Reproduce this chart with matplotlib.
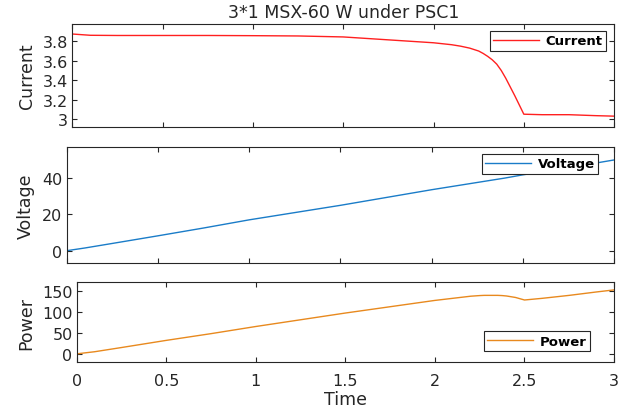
import matplotlib
matplotlib.use('Agg')
import matplotlib.pyplot as plt
from matplotlib.ticker import FormatStrFormatter

# sample times (s)
time = [0, 0.1, 0.25, 0.5, 0.75, 1.0, 1.25, 1.5, 1.75, 2.0, 2.1, 2.15, 2.2,
        2.25, 2.275, 2.3, 2.325, 2.35, 2.375, 2.4, 2.45, 2.5, 2.6, 2.75, 2.9, 3.0]

current = [3.875, 3.862, 3.86, 3.86, 3.86, 3.858, 3.855, 3.845, 3.815, 3.785,
           3.765, 3.75, 3.73, 3.70, 3.675, 3.645, 3.61, 3.565, 3.50, 3.42,
           3.24, 3.05, 3.045, 3.045, 3.035, 3.03]

voltage = [0, 1.5, 4.0, 8.2, 12.5, 17.0, 21.0, 25.0, 29.3, 33.6, 35.2, 36.0,
           36.8, 37.6, 38.0, 38.4, 38.8, 39.2, 39.6, 40.0, 40.9, 41.8, 43.4,
           45.8, 48.3, 50.0]

power = [0, 5, 15, 32, 48, 65, 81, 97, 112, 127, 132, 134.5, 137, 138.5,
         139, 139, 139, 139, 138.5, 137.5, 134, 128, 132, 139, 147, 152]

xticks = [0, 0.5, 1, 1.5, 2, 2.5, 3]

plt.rcParams['font.family'] = 'DejaVu Sans'
txt = '#262626'

fig = plt.figure(figsize=(6.3, 4.1), dpi=100)
ax1 = fig.add_axes([0.1148, 0.687, 0.860, 0.252])
ax2 = fig.add_axes([0.1059, 0.356, 0.869, 0.282])
ax3 = fig.add_axes([0.1217, 0.114, 0.853, 0.196])


def style(ax):
    ax.set_xlim(0, 3)
    ax.set_xticks(xticks)
    ax.tick_params(direction='in', length=3.5, width=0.8, top=True, right=True,
                   labelsize=11.5, colors=txt, pad=3)
    ax.tick_params(axis='x', pad=8)
    for s in ax.spines.values():
        s.set_color('#262626')
        s.set_linewidth(0.8)
    ax.xaxis.set_major_formatter(FormatStrFormatter('%g'))
    ax.yaxis.set_major_formatter(FormatStrFormatter('%g'))


def leg(ax, **kw):
    lg = ax.legend(prop={'weight': 'bold', 'size': 9.5}, fancybox=False,
                   edgecolor='#262626', framealpha=1, handlelength=3.5,
                   borderaxespad=0, borderpad=0.25, handletextpad=0.5, **kw)
    lg.get_frame().set_linewidth(0.8)


ax1.plot(time, current, color='#FF2020', lw=1.0, label='Current')
style(ax1)
ax1.set_ylim(2.915, 3.978)
ax1.set_yticks([3, 3.2, 3.4, 3.6, 3.8])
ax1.tick_params(labelbottom=False)
ax1.set_ylabel('Current', fontsize=12.5, color=txt, labelpad=5)
ax1.set_title('3*1 MSX-60 W under PSC1', fontsize=12.5, color=txt, pad=5)
leg(ax1, loc='upper right', bbox_to_anchor=(0.985, 0.932))

ax2.plot(time, voltage, color='#1A7CC8', lw=1.0, label='Voltage')
style(ax2)
ax2.set_ylim(-6.8, 56.9)
ax2.set_yticks([0, 20, 40])
ax2.tick_params(labelbottom=False)
ax2.set_ylabel('Voltage', fontsize=12.5, color=txt, labelpad=5)
leg(ax2, loc='upper right', bbox_to_anchor=(0.971, 0.942))

ax3.plot(time, power, color='#E8891E', lw=1.0, label='Power')
style(ax3)
ax3.set_ylim(-20, 171)
ax3.set_yticks([0, 50, 100, 150])
ax3.set_ylabel('Power', fontsize=12.5, color=txt, labelpad=5)
ax3.set_xlabel('Time', fontsize=12.5, color=txt, labelpad=1)
leg(ax3, loc='lower right', bbox_to_anchor=(0.955, 0.141))

fig.savefig('out.png', dpi=100)
